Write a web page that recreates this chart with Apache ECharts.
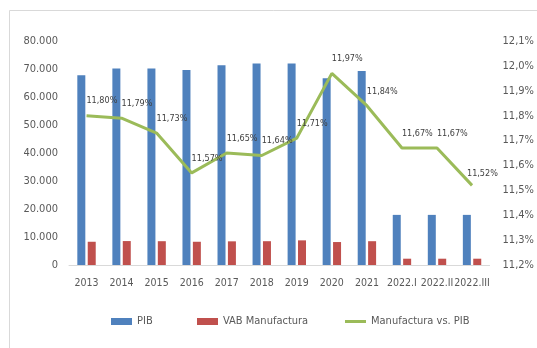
<!DOCTYPE html>
<html>
<head>
<meta charset="utf-8">
<style>
  html, body { margin: 0; padding: 0; background: #fff; }
  #chart { width: 537px; height: 348px; }
</style>
<script src="https://cdn.jsdelivr.net/npm/echarts@6/dist/echarts.min.js"></script>
</head>
<body>
<div id="chart"></div>
<script>
// Periods shown on the horizontal axis
const categories = ['2013', '2014', '2015', '2016', '2017', '2018', '2019', '2020', '2021', '2022.I', '2022.II', '2022.III'];

// PIB and manufacturing gross value added
const pib = [67800, 70200, 70200, 69600, 71300, 72000, 72000, 66700, 69300, 17900, 17900, 17900];
const vabManufactura = [8300, 8550, 8500, 8300, 8450, 8500, 8800, 8200, 8500, 2250, 2250, 2250];

// Manufacturing share of PIB, in percent
const manufacturaVsPib = [11.80, 11.79, 11.73, 11.57, 11.65, 11.64, 11.71, 11.97, 11.84, 11.67, 11.67, 11.52];

// Pick the first condensed face that is actually installed
function pickFont(candidates, fallback) {
  const ctx = document.createElement('canvas').getContext('2d');
  const probe = '2022.III 80.000 Manufactura';
  ctx.font = '40px monospace';
  const wMono = ctx.measureText(probe).width;
  ctx.font = '40px serif';
  const wSerif = ctx.measureText(probe).width;
  for (const f of candidates) {
    ctx.font = `40px '${f}', monospace`;
    const a = ctx.measureText(probe).width;
    ctx.font = `40px '${f}', serif`;
    const b = ctx.measureText(probe).width;
    if (a !== wMono || b !== wSerif) return `'${f}'`;
  }
  return fallback;
}
const narrowFont = pickFont(['Liberation Sans Narrow', 'DejaVu Sans Condensed', 'Roboto Condensed', 'Open Sans Condensed'], null);
const font = narrowFont ? narrowFont + ', sans-serif' : "'Liberation Sans', sans-serif";
const textColor = '#595959';

const fmtThousands = v => v === 0 ? '0' : v.toLocaleString('de-DE');
const fmtPct1 = v => v.toFixed(1).replace('.', ',') + '%';
const fmtPct2 = v => v.toFixed(2).replace('.', ',') + '%';

const chart = echarts.init(document.getElementById('chart'), null, { renderer: 'canvas' });

const legendCommon = {
  top: 311,
  itemWidth: 21,
  itemHeight: 7,
  symbolKeepAspect: true,
  textStyle: { fontFamily: font, fontSize: 11, color: textColor }
};

// Label anchor (relative to the point) for each value on the line
const labelPos = manufacturaVsPib.map((v, i) => i === manufacturaVsPib.length - 1 ? [-5, -16] : [0, -19]);

chart.setOption({
  animation: false,
  backgroundColor: '#fff',
  textStyle: { fontFamily: font },
  graphic: [
    { type: 'line', shape: { x1: 9.5, y1: 10.5, x2: 537, y2: 10.5 }, style: { stroke: '#d9d9d9', lineWidth: 1 } },
    { type: 'line', shape: { x1: 9.5, y1: 10.5, x2: 9.5, y2: 348 }, style: { stroke: '#d9d9d9', lineWidth: 1 } }
  ],
  grid: { left: 69, right: 42, top: 41, bottom: 83, containLabel: false },
  legend: [
    Object.assign({ left: 106, data: [{ name: 'PIB', icon: 'rect' }] }, legendCommon),
    Object.assign({ left: 192, data: [{ name: 'VAB Manufactura', icon: 'rect' }] }, legendCommon),
    Object.assign({ left: 340, data: [{ name: 'Manufactura vs. PIB', icon: 'path://M0,0 H21 V3 H0 Z' }] }, legendCommon)
  ],
  xAxis: {
    type: 'category',
    data: categories,
    axisLine: { lineStyle: { color: '#d9d9d9' } },
    axisTick: { show: false },
    axisLabel: { color: textColor, fontSize: 10.5, fontFamily: font, margin: 13, interval: 0 }
  },
  yAxis: [
    {
      type: 'value',
      min: 0, max: 80000, interval: 10000,
      splitLine: { show: false },
      axisLine: { show: false },
      axisTick: { show: false },
      axisLabel: { color: textColor, fontSize: 11, fontFamily: font, margin: 11, formatter: fmtThousands }
    },
    {
      type: 'value',
      min: 11.2, max: 12.1, interval: 0.1,
      position: 'right',
      splitLine: { show: false },
      axisLine: { show: false },
      axisTick: { show: false },
      axisLabel: { color: textColor, fontSize: 11, fontFamily: font, margin: 13, formatter: fmtPct1 }
    }
  ],
  series: [
    {
      name: 'PIB',
      type: 'bar',
      data: pib,
      barWidth: 8,
      barGap: '30%',
      itemStyle: { color: '#4F81BD' }
    },
    {
      name: 'VAB Manufactura',
      type: 'bar',
      data: vabManufactura,
      barWidth: 8,
      itemStyle: { color: '#C0504D' }
    },
    {
      name: 'Manufactura vs. PIB',
      type: 'line',
      yAxisIndex: 1,
      data: manufacturaVsPib.map((v, i) => ({ value: v, label: { position: labelPos[i] } })),
      symbol: 'circle',
      symbolSize: 0.1,
      showSymbol: true,
      lineStyle: { color: '#9BBB59', width: 3 },
      itemStyle: { color: '#9BBB59' },
      label: {
        show: true,
        fontSize: 9,
        fontFamily: font,
        color: '#404040',
        formatter: p => fmtPct2(p.value)
      }
    }
  ]
});
</script>
</body>
</html>
